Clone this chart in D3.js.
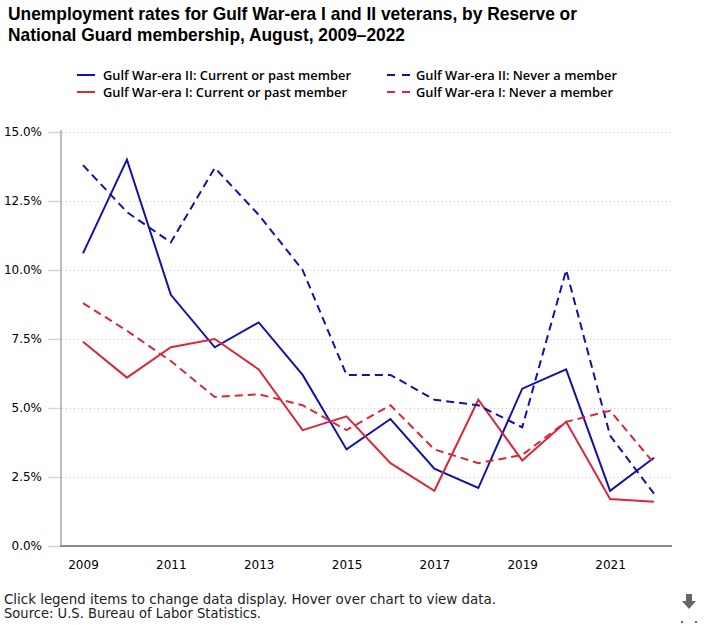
<!DOCTYPE html>
<html>
<head>
<meta charset="utf-8">
<script src="https://cdn.jsdelivr.net/npm/d3@7"></script>
<style>
  body { margin: 0; background: #fff; }
  svg { display: block; }
  .title { font-family: "Liberation Sans", Arial, sans-serif; font-weight: bold; font-size: 18.5px; fill: #000; }
  .legend text { font-family: "Open Sans", sans-serif; font-weight: 600; font-size: 12.8px; fill: #000; }
  .tick text { font-family: "DejaVu Sans", sans-serif; font-size: 12px; fill: #000; }
  .note { font-family: "DejaVu Sans", sans-serif; font-size: 13.4px; fill: #222; }
</style>
</head>
<body>
<svg id="chart" width="724" height="625"></svg>
<script>
var years = [2009, 2010, 2011, 2012, 2013, 2014, 2015, 2016, 2017, 2018, 2019, 2020, 2021, 2022];

var era2Member = [10.6, 14.0, 9.1, 7.2, 8.1, 6.2, 3.5, 4.6, 2.8, 2.1, 5.7, 6.4, 2.0, 3.2];
var era2Never  = [13.8, 12.1, 11.0, 13.7, 12.0, 10.0, 6.2, 6.2, 5.3, 5.1, 4.3, 10.0, 4.0, 1.9];
var era1Member = [7.4, 6.1, 7.2, 7.5, 6.4, 4.2, 4.7, 3.0, 2.0, 5.3, 3.1, 4.5, 1.7, 1.6];
var era1Never  = [8.8, 7.8, 6.7, 5.4, 5.5, 5.1, 4.2, 5.1, 3.5, 3.0, 3.3, 4.5, 4.9, 3.0];

var yTicks = [0, 2.5, 5, 7.5, 10, 12.5, 15];
var xTicks = [2009, 2011, 2013, 2015, 2017, 2019, 2021];

var blue = "#1212a8", red = "#d8283a";

var series = [
    {name: "Gulf War-era II: Current or past member", values: era2Member, color: blue, dash: null},
    {name: "Gulf War-era I: Current or past member",  values: era1Member, color: red,  dash: null},
    {name: "Gulf War-era II: Never a member",         values: era2Never,  color: blue, dash: "8,5"},
    {name: "Gulf War-era I: Never a member",          values: era1Never,  color: red,  dash: "8,5"}
];

var svg = d3.select("#chart");

var x = d3.scaleLinear().domain([2009, 2022]).range([83, 654]);
var y = d3.scaleLinear().domain([0, 15]).range([546, 132]);

// fit a text to a given width (the original uses narrower fonts)
function fit(sel, w) {
    sel.attr("textLength", w).attr("lengthAdjust", "spacingAndGlyphs");
}

// title
svg.append("text").attr("class", "title").attr("x", 8).attr("y", 20)
    .text("Unemployment rates for Gulf War-era I and II veterans, by Reserve or")
    .call(fit, 569);
svg.append("text").attr("class", "title").attr("x", 8).attr("y", 41)
    .text("National Guard membership, August, 2009\u20132022")
    .call(fit, 397);

// legend
var legend = svg.append("g").attr("class", "legend");
var legendPos = [[77, 75], [77, 92], [387, 75], [387, 92]];
var legendWidths = [248, 244, 201, 197];
series.forEach(function(s, i){
    var p = legendPos[i];
    var g = legend.append("g").attr("transform", "translate(" + p[0] + "," + p[1] + ")");
    if (s.dash) {
        g.append("line").attr("x1", 0).attr("x2", 23).attr("y1", 0).attr("y2", 0)
            .attr("stroke", s.color).attr("stroke-width", 2).attr("stroke-dasharray", "8,7");
    } else {
        g.append("line").attr("x1", 0).attr("x2", 18).attr("y1", 0).attr("y2", 0)
            .attr("stroke", s.color).attr("stroke-width", 2);
    }
    g.append("text").attr("x", s.dash ? 29 : 26).attr("y", 4.5).text(s.name)
        .call(fit, legendWidths[i]);
});

// grid
svg.append("g").selectAll("line.grid")
    .data(yTicks)
    .enter()
    .append("line")
    .attr("class", "grid")
    .attr("x1", 62).attr("x2", 672)
    .attr("y1", function(d){ return y(d) + 0.5 })
    .attr("y2", function(d){ return y(d) + 0.5 })
    .attr("stroke", function(d){ return d === 0 ? "none" : "#c8c8c8" })
    .attr("stroke-dasharray", "1,3");

// y axis
var yAxis = svg.append("g").attr("transform", "translate(61,0)")
    .call(d3.axisLeft(y).tickValues(yTicks).tickSize(13).tickPadding(6)
        .tickFormat(function(d){ return d.toFixed(1) + "%" }));
yAxis.select(".domain").remove();
yAxis.selectAll(".tick line").attr("stroke", "#ccd6eb").attr("stroke-width", 1.5);
yAxis.selectAll(".tick text").attr("font-family", null).attr("font-size", null);
svg.append("line").attr("x1", 61).attr("x2", 61).attr("y1", 130).attr("y2", 546)
    .attr("stroke", "#a8a8a8").attr("stroke-width", 1.5);

// x axis
var xAxis = svg.append("g").attr("transform", "translate(0,546)")
    .call(d3.axisBottom(x).tickValues(xTicks).tickSize(0).tickPadding(14)
        .tickFormat(d3.format("d")));
xAxis.select(".domain").remove();
xAxis.selectAll(".tick text").attr("font-family", null).attr("font-size", null);
svg.append("line").attr("x1", 60).attr("x2", 672).attr("y1", 546).attr("y2", 546)
    .attr("stroke", "#8a8a8a").attr("stroke-width", 2);

// lines
var line = d3.line()
    .x(function(d, i){ return x(years[i]) })
    .y(function(d){ return y(d) });

svg.append("g").selectAll("path.series")
    .data(series)
    .enter()
    .append("path")
    .attr("class", "series")
    .attr("fill", "none")
    .attr("stroke", function(d){ return d.color })
    .attr("stroke-width", 2)
    .attr("stroke-dasharray", function(d){ return d.dash })
    .attr("d", function(d){ return line(d.values) });

// notes
svg.append("text").attr("class", "note").attr("x", 4).attr("y", 604)
    .text("Click legend items to change data display. Hover over chart to view data.")
    .call(fit, 492);
svg.append("text").attr("class", "note").attr("x", 4).attr("y", 618)
    .text("Source: U.S. Bureau of Labor Statistics.")
    .call(fit, 257);

// download icon
var icon = svg.append("g").attr("transform", "translate(689,602)");
icon.append("path").attr("d", "M-3,-8 H3 V-1 H7 L0,7 L-7,-1 H-3 Z").attr("fill", "#666");
icon.append("line").attr("x1", -8).attr("x2", 8).attr("y1", 20).attr("y2", 20)
    .attr("stroke", "#666").attr("stroke-width", 2).attr("stroke-dasharray", "2,12");
</script>
</body>
</html>
